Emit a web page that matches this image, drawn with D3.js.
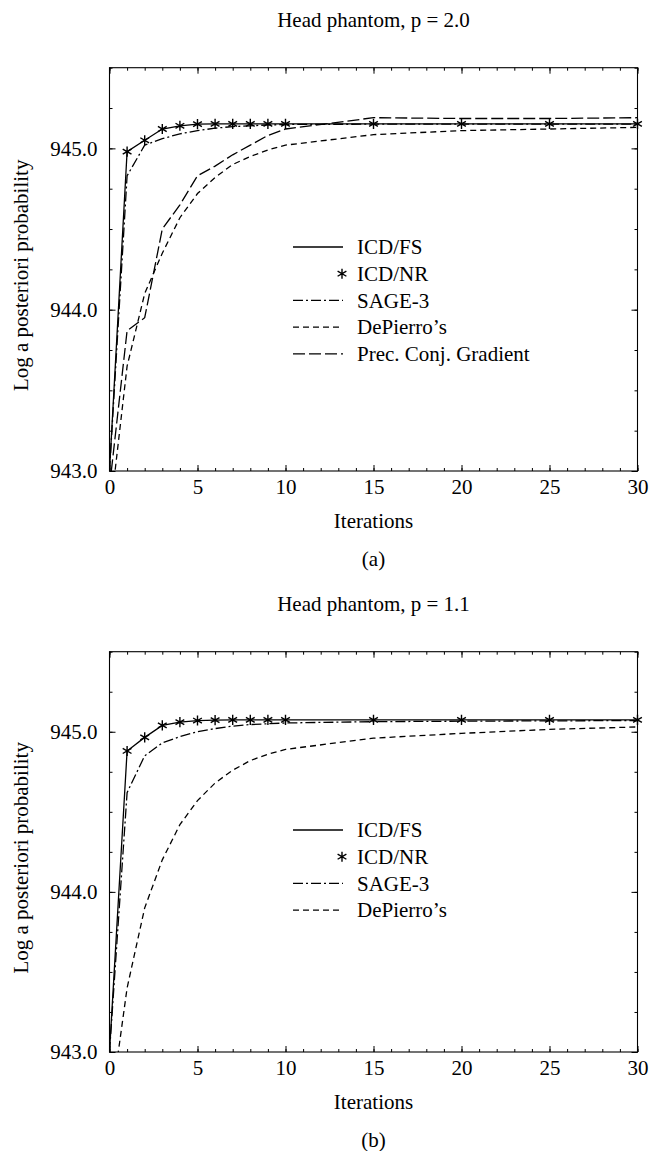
<!DOCTYPE html>
<html lang="en">
  <head>
    <meta charset="utf-8">
    <title>Head phantom convergence</title>
    <script src="https://cdn.jsdelivr.net/npm/d3@7"></script>
    <style>
      body { margin: 0; background: #fff; }
      text { font-family: "Liberation Serif", "Times New Roman", serif; font-size: 21px; fill: #000; }
    </style>
  </head>
  <body>
    <script>

      //Width and height
      var w = 650;
      var h = 1151;

      //Iterations where the curves are sampled
      var iters = [0, 1, 2, 3, 4, 5, 6, 7, 8, 9, 10, 15, 20, 25, 30];

      //Panel (a), p = 2.0
      var icdA  = [943.0, 944.98, 945.05, 945.12, 945.14, 945.15, 945.152, 945.152, 945.152, 945.152, 945.152, 945.152, 945.152, 945.152, 945.152];
      var sageA = [943.0, 944.83, 945.02, 945.06, 945.09, 945.11, 945.125, 945.135, 945.14, 945.145, 945.148, 945.15, 945.15, 945.15, 945.15];
      var depA  = [942.7, 943.65, 944.10, 944.35, 944.57, 944.72, 944.82, 944.90, 944.95, 944.99, 945.02, 945.085, 945.11, 945.12, 945.13];
      var pcgA  = [942.9, 943.87, 943.95, 944.50, 944.65, 944.83, 944.89, 944.96, 945.02, 945.08, 945.12, 945.19, 945.185, 945.185, 945.19];

      //Panel (b), p = 1.1
      var icdB  = [943.0, 944.88, 944.965, 945.04, 945.06, 945.07, 945.073, 945.074, 945.074, 945.074, 945.074, 945.074, 945.074, 945.074, 945.074];
      var sageB = [943.0, 944.62, 944.85, 944.93, 944.97, 945.0, 945.02, 945.035, 945.045, 945.05, 945.055, 945.063, 945.066, 945.068, 945.07];
      var depB  = [942.6, 943.40, 943.90, 944.20, 944.42, 944.57, 944.68, 944.76, 944.82, 944.86, 944.89, 944.96, 944.99, 945.015, 945.03];

      //Ticks
      var xTicks = [0, 5, 10, 15, 20, 25, 30];
      var xMinor = d3.range(0, 31, 1);
      var yTicks = [943.0, 944.0, 945.0];
      var yMinor = d3.range(943.0, 945.51, 0.25);

      var names = ["ICD/FS", "ICD/NR", "SAGE-3", "DePierro\u2019s", "Prec. Conj. Gradient"];
      var dashes = { fs: null, sage: "10,3,2,3", dep: "6,4", pcg: "12,4" };

      var svg = d3.select("body")
                  .append("svg")
                  .attr("width", w)
                  .attr("height", h);

      var star = d3.symbol().type(d3.symbolAsterisk || d3.symbolTimes).size(72);

      function panel(id, top, bottom, title, tag, series, legendTop) {

        var x = d3.scaleLinear().domain([0, 30]).range([109.5, 637.5]);
        var y = d3.scaleLinear().domain([943, 945.5]).range([bottom, top]);
        var g = svg.append("g");

        g.append("clipPath").attr("id", id)
         .append("rect")
         .attr("x", x(0)).attr("y", y(945.5))
         .attr("width", x(30) - x(0)).attr("height", y(943) - y(945.5));

        //Axes with ticks pointing inwards
        g.append("g").attr("transform", "translate(0," + y(943) + ")")
         .call(d3.axisBottom(x).tickValues(xMinor).tickSize(-3).tickFormat(""));
        g.append("g").attr("transform", "translate(0," + y(943) + ")")
         .call(d3.axisBottom(x).tickValues(xTicks).tickSizeInner(-6).tickSizeOuter(0).tickPadding(8));
        g.append("g").attr("transform", "translate(0," + y(945.5) + ")")
         .call(d3.axisTop(x).tickValues(xMinor).tickSize(-3).tickFormat(""));
        g.append("g").attr("transform", "translate(0," + y(945.5) + ")")
         .call(d3.axisTop(x).tickValues(xTicks).tickSize(-6).tickFormat(""));
        g.append("g").attr("transform", "translate(" + x(0) + ",0)")
         .call(d3.axisLeft(y).tickValues(yMinor).tickSize(-3).tickFormat(""));
        g.append("g").attr("transform", "translate(" + x(0) + ",0)")
         .call(d3.axisLeft(y).tickValues(yTicks).tickSizeInner(-6).tickSizeOuter(0).tickPadding(12).tickFormat(d3.format(".1f")));
        g.append("g").attr("transform", "translate(" + x(30) + ",0)")
         .call(d3.axisRight(y).tickValues(yMinor).tickSize(-3).tickFormat(""));
        g.append("g").attr("transform", "translate(" + x(30) + ",0)")
         .call(d3.axisRight(y).tickValues(yTicks).tickSize(-6).tickFormat(""));

        g.selectAll(".domain").remove();
        g.selectAll(".tick line").attr("stroke", "#000");
        g.selectAll(".tick text").attr("font-size", null).attr("font-family", null);

        g.append("rect")
         .attr("x", x(0)).attr("y", y(945.5))
         .attr("width", x(30) - x(0)).attr("height", y(943) - y(945.5))
         .attr("fill", "none").attr("stroke", "#000").attr("stroke-width", 1.1);

        //Curves
        var line = d3.line()
                     .x(function(d) { return x(d[0]); })
                     .y(function(d) { return y(d[1]); });

        var curves = g.append("g").attr("clip-path", "url(#" + id + ")");
        series.forEach(function(s) {
          curves.append("path")
                .attr("d", line(d3.zip(iters, s.values)))
                .attr("fill", "none")
                .attr("stroke", "#000")
                .attr("stroke-width", 1.3)
                .attr("stroke-dasharray", s.dash);
        });

        //ICD/NR stars at every iteration after the first
        g.selectAll("path.star")
         .data(d3.zip(iters, series[0].values).slice(1))
         .enter()
         .append("path")
         .attr("class", "star")
         .attr("d", star)
         .attr("transform", function(d) { return "translate(" + x(d[0]) + "," + y(d[1]) + ")"; })
         .attr("fill", "none")
         .attr("stroke", "#000")
         .attr("stroke-width", 1.4);

        //Legend
        var rows = [{ name: names[0], dash: dashes.fs }, { name: names[1], star: true }]
                     .concat(series.slice(1).map(function(s) { return { name: s.name, dash: s.dash }; }));
        var leg = g.append("g");
        rows.forEach(function(r, i) {
          var ly = legendTop + i * 26.7;
          if (r.star) {
            leg.append("path").attr("d", star)
               .attr("transform", "translate(342," + ly + ")")
               .attr("fill", "none").attr("stroke", "#000").attr("stroke-width", 1.4);
          } else {
            leg.append("line")
               .attr("x1", 293).attr("x2", 343).attr("y1", ly).attr("y2", ly)
               .attr("stroke", "#000").attr("stroke-width", 1.3)
               .attr("stroke-dasharray", r.dash);
          }
          leg.append("text").attr("x", 357).attr("y", ly).attr("dy", "0.35em").text(r.name);
        });

        //Titles
        var cx = (x(0) + x(30)) / 2;
        g.append("text").attr("x", cx).attr("y", top - 41).attr("text-anchor", "middle").text(title);
        g.append("text").attr("x", cx).attr("y", bottom + 57).attr("text-anchor", "middle").text("Iterations");
        g.append("text").attr("x", cx).attr("y", bottom + 95).attr("text-anchor", "middle").text(tag);
        g.append("text")
         .attr("transform", "translate(28," + ((top + bottom) / 2 + 6) + ") rotate(-90)")
         .attr("text-anchor", "middle")
         .text("Log a posteriori probability");
      }

      panel("clipA", 67.7, 471, "Head phantom, p = 2.0", "(a)", [
        { name: names[0], values: icdA, dash: dashes.fs },
        { name: names[2], values: sageA, dash: dashes.sage },
        { name: names[3], values: depA, dash: dashes.dep },
        { name: names[4], values: pcgA, dash: dashes.pcg }
      ], 247);

      panel("clipB", 651.7, 1052, "Head phantom, p = 1.1", "(b)", [
        { name: names[0], values: icdB, dash: dashes.fs },
        { name: names[2], values: sageB, dash: dashes.sage },
        { name: names[3], values: depB, dash: dashes.dep }
      ], 830);

    </script>
  </body>
</html>
